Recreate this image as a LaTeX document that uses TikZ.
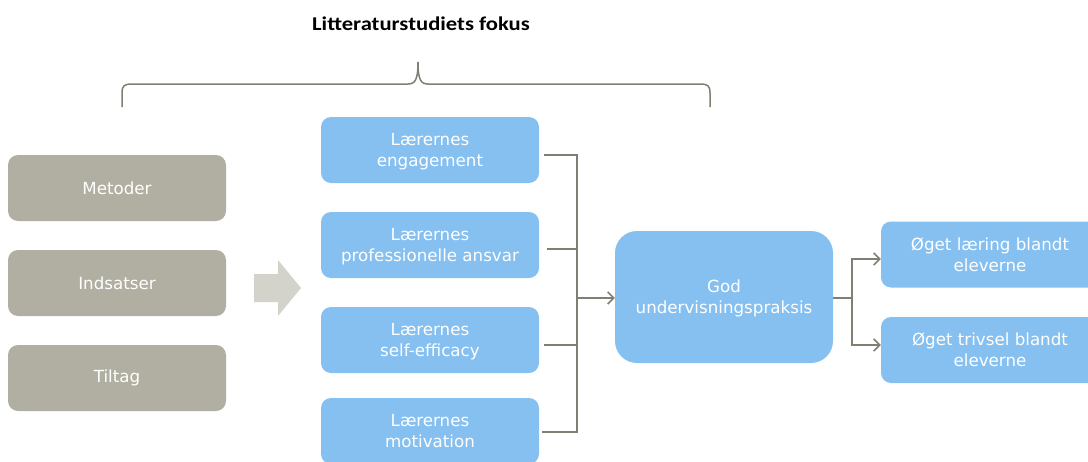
\documentclass[tikz,border=0pt]{standalone}
\usepackage{fontspec}
\setmainfont{DejaVu Sans}
\newfontfamily\titlefont{Carlito}
\usetikzlibrary{arrows.meta}
\definecolor{boxblue}{RGB}{133,192,240}
\definecolor{boxgray}{RGB}{176,175,162}
\definecolor{arrgray}{RGB}{212,211,203}
\definecolor{linegray}{RGB}{128,127,115}
\begin{document}
\begin{tikzpicture}[x=1pt,y=-1pt,
  graybox/.style={rectangle,rounded corners=10pt,fill=boxgray,text=white,
    minimum width=218pt,minimum height=66pt,align=center,inner sep=0pt,
    font=\fontsize{16.7}{21}\selectfont},
  bluebox/.style={rectangle,rounded corners=10pt,fill=boxblue,text=white,
    minimum width=218pt,minimum height=66pt,align=center,inner sep=0pt,
    text depth=0pt,font=\fontsize{16.7}{21}\selectfont},
  conn/.style={draw=linegray,line width=1.6pt},
  tip/.style={-{Straight Barb[length=6pt,width=12pt,line width=1.6pt]}}]
\useasboundingbox (0,0) rectangle (1088,461);
\clip (0,0) rectangle (1088,461);
% title
\node (title) at (421,24) {\scalebox{1.16}[1]{\titlefont\bfseries\fontsize{19.5}{22}\selectfont Litteraturstudiets fokus}};
% brace
\draw[conn,line width=1.5pt] (122,107) -- (122,93) .. controls (122,86) and (124,84) .. (132,84) -- (408,84)
  .. controls (415,84) and (418,80) .. (418,62) .. controls (418,80) and (421,84) .. (428,84)
  -- (700,84) .. controls (708,84) and (710,86) .. (710,93) -- (710,107);
% gray boxes
\node[graybox] (g1) at (117,188) {Metoder};
\node[graybox] (g2) at (117,283) {Indsatser};
\node[graybox] (g3) at (117,378) {Tiltag};
% block arrow
\fill[arrgray] (254,274) -- (278,274) -- (278,260) -- (301,288) -- (278,316) -- (278,302) -- (254,302) -- cycle;
% blue boxes
\node[bluebox] (b1) at (430,150) {Lærernes\\engagement};
\node[bluebox] (b2) at (430,245) {Lærernes\\professionelle ansvar};
\node[bluebox] (b3) at (430,340) {Lærernes\\self-efficacy};
\node[bluebox] (b4) at (430,431) {Lærernes\\motivation};
% central
\node[bluebox,rounded corners=22pt,minimum height=132pt] (god) at (724,297) {God\\undervisningspraksis};
% results
\node[bluebox] (r1) at (990,254.5) {Øget læring blandt\\eleverne};
\node[bluebox] (r2) at (990,350) {Øget trivsel blandt\\eleverne};
% connectors
\coordinate (j) at (577,298);
\coordinate (k) at (852,298);
\draw[conn] ([xshift=5pt,yshift=-5pt]b1.east) -| (j);
\draw[conn] ([xshift=3pt,yshift=-1pt]b4.east) -| (j);
\draw[conn] ([xshift=8pt,yshift=-4pt]b2.east) -- ([yshift=-4pt]b2.east -| j);
\draw[conn] ([xshift=5pt,yshift=-5pt]b3.east) -- ([yshift=-5pt]b3.east -| j);
\draw[conn,tip] (j) -- (god.west |- j);
\draw[conn] (god.east |- k) -- (k);
\draw[conn,tip] (k) |- ([yshift=-4.5pt]r1.west);
\draw[conn,tip] (k) |- ([yshift=5pt]r2.west);
\end{tikzpicture}
\end{document}
